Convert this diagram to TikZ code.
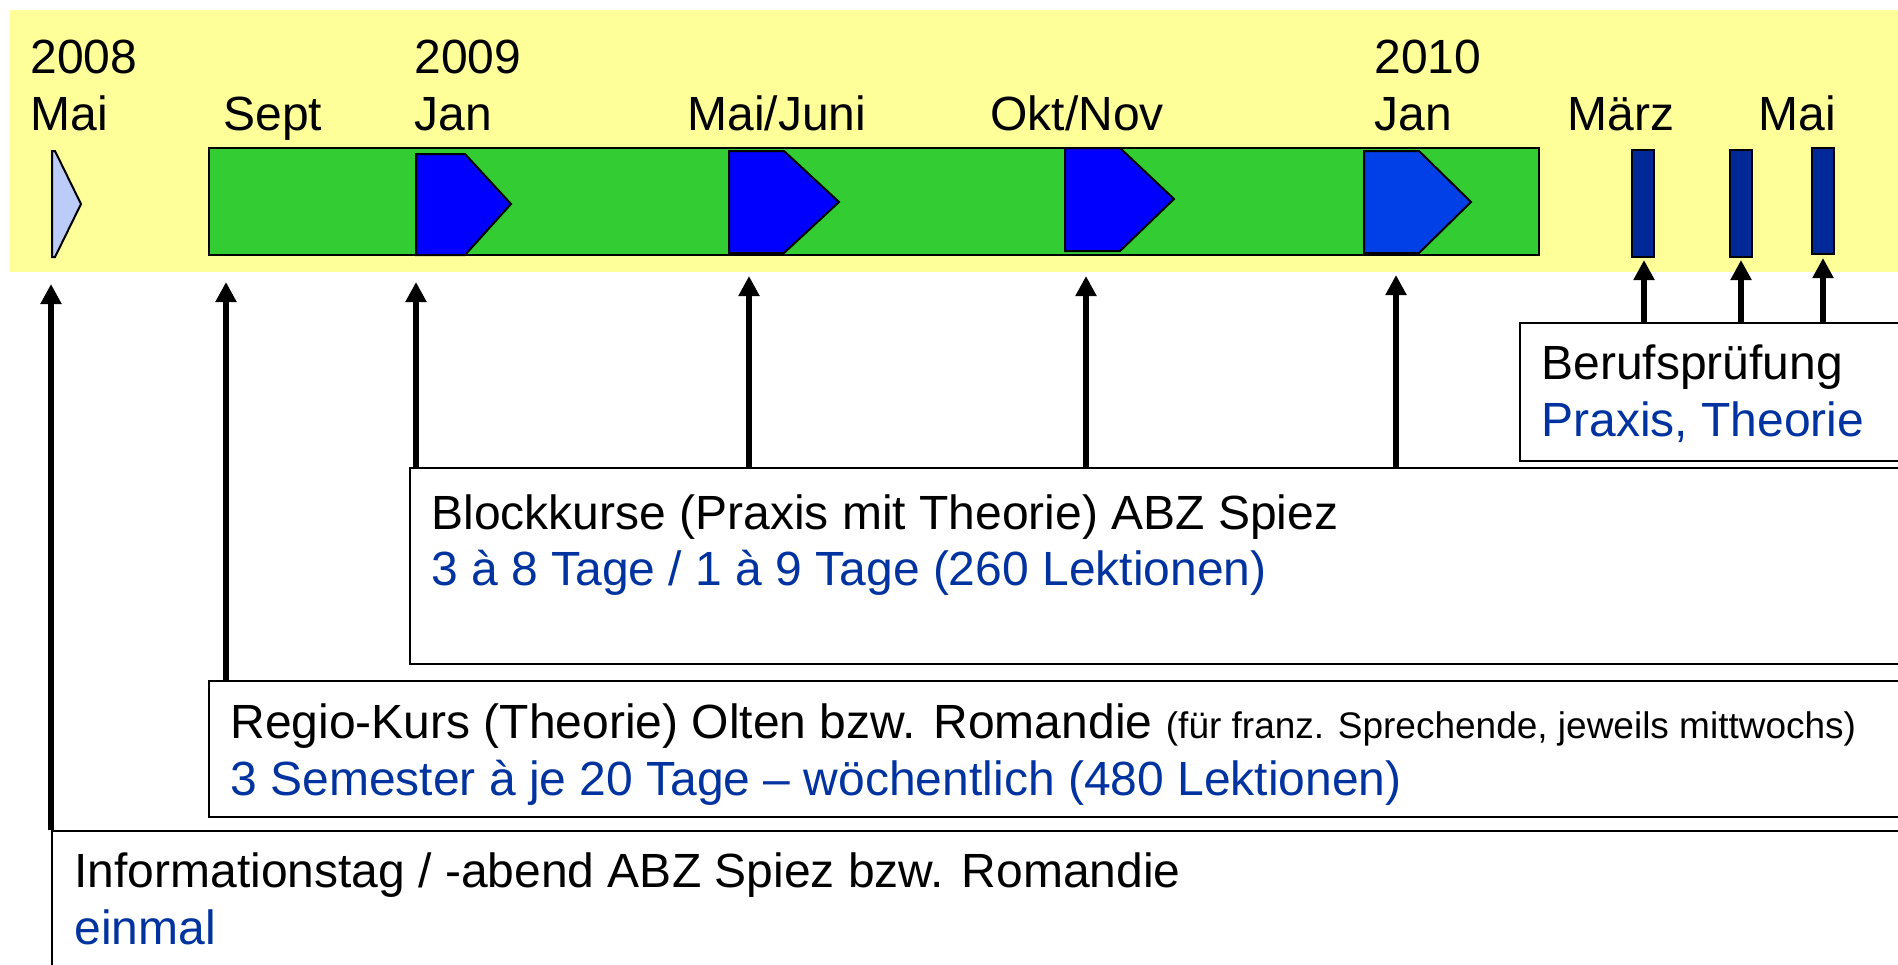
\documentclass[tikz,border=0pt]{standalone}
\usepackage{fontspec}
\setmainfont{Liberation Sans}
\usetikzlibrary{arrows.meta}
\definecolor{bgyellow}{HTML}{FFFF99}
\definecolor{bargreen}{HTML}{33CC33}
\definecolor{pblue}{HTML}{0000FF}
\definecolor{pbluetwo}{HTML}{0040E6}
\definecolor{navy}{HTML}{002896}
\definecolor{lightb}{HTML}{BBCCF8}
\definecolor{txtblue}{HTML}{0033A0}
\begin{document}
\begin{tikzpicture}[x=0.5pt,y=-0.5pt,
  lbl/.style={anchor=base west, inner sep=0pt, font=\fontsize{24}{28}\selectfont},
  bluetxt/.style={lbl, text=txtblue},
  box/.style={draw=black, line width=1pt, fill=white, anchor=north west, inner sep=0pt},
  arr/.style={line width=3.4pt, -{Triangle[width=10pt,length=10pt]}},
  pent/.style={draw=black, line width=1pt, line join=miter},
  exambar/.style={fill=navy, draw=black, line width=0.8pt}]
\clip (0,0) rectangle (1898,964);
\fill[white] (0,0) rectangle (1898,964);
\fill[bgyellow] (10,10) rectangle (1898,272);
% timeline labels
\node[lbl] (y2008) at (30,73) {2008};
\node[lbl] (m1) at (30,130) {Mai};
\node[lbl] (m2) at (223,130) {Sept};
\node[lbl] (y2009) at (414,73) {2009};
\node[lbl] (m3) at (414,130) {Jan};
\node[lbl] (m4) at (687,130) {Mai/Juni};
\node[lbl] (m5) at (990,130) {Okt/Nov};
\node[lbl] (y2010) at (1374,73) {2010};
\node[lbl] (m6) at (1374,130) {Jan};
\node[lbl] (m7) at (1567,130) {März};
\node[lbl] (m8) at (1758,130) {Mai};
% timeline shapes
\draw[pent, fill=lightb] (52,151) -- (55,151) -- (81,204) -- (55,257) -- (52,257) -- cycle;
\draw[fill=bargreen, draw=black, line width=1.2pt] (209,148) rectangle (1539,255);
\draw[pent, fill=pblue] (416,154) -- (465,154) -- (511,204) -- (465,255) -- (416,255) -- cycle;
\draw[pent, fill=pblue] (729,151) -- (784,151) -- (839,202) -- (784,253) -- (729,253) -- cycle;
\draw[pent, fill=pblue] (1065,148) -- (1120,148) -- (1174,199) -- (1120,251) -- (1065,251) -- cycle;
\draw[pent, fill=pbluetwo] (1364,151) -- (1419,151) -- (1471,202) -- (1419,253) -- (1364,253) -- cycle;
\draw[exambar] (1632,150) rectangle (1654,257);
\draw[exambar] (1730,150) rectangle (1752,257);
\draw[exambar] (1812,148) rectangle (1834,254);
% boxes
\node[box, minimum width=195.5pt, minimum height=69pt] (beruf) at (1519,322) {};
\node[box, minimum width=750.5pt, minimum height=98pt] (block) at (409,467) {};
\node[box, minimum width=851pt, minimum height=68pt] (regio) at (208,680) {};
\node[box, minimum width=929.5pt, minimum height=75pt] (info) at (51,830) {};
% box texts
\node[lbl] (berufA) at (1541,379) {Berufsprüfung};
\node[bluetxt] (berufB) at (1541,436) {Praxis, Theorie};
\node[lbl] (blockA) at (431,529) {Blockkurse (Praxis mit Theorie) ABZ Spiez};
\node[bluetxt] (blockB) at (431,585) {3 à 8 Tage / 1 à 9 Tage (260 Lektionen)};
\node[lbl] (regioA) at (230,738) {Regio-Kurs (Theorie) Olten bzw. Romandie {\fontsize{18.5}{20}\selectfont (für franz. Sprechende, jeweils mittwochs)}};
\node[bluetxt] (regioB) at (230,795) {3 Semester à je 20 Tage – wöchentlich (480 Lektionen)};
\node[lbl] (infoA) at (74,887) {Informationstag / -abend ABZ Spiez bzw. Romandie};
\node[bluetxt] (infoB) at (74,944) {einmal};
% arrow tips
\coordinate (t1) at (51,284);
\coordinate (t2) at (226,282);
\coordinate (t3) at (416,282);
\coordinate (t4) at (749,276);
\coordinate (t5) at (1086,276);
\coordinate (t6) at (1396,275);
\coordinate (t7) at (1644,260);
\coordinate (t8) at (1741,260);
\coordinate (t9) at (1823,258);
\draw[arr] (info.north -| t1) -- (t1);
\draw[arr] (regio.north -| t2) -- (t2);
\draw[arr] (block.north -| t3) -- (t3);
\draw[arr] (block.north -| t4) -- (t4);
\draw[arr] (block.north -| t5) -- (t5);
\draw[arr] (block.north -| t6) -- (t6);
\draw[arr] (beruf.north -| t7) -- (t7);
\draw[arr] (beruf.north -| t8) -- (t8);
\draw[arr] (beruf.north -| t9) -- (t9);
\end{tikzpicture}
\end{document}
